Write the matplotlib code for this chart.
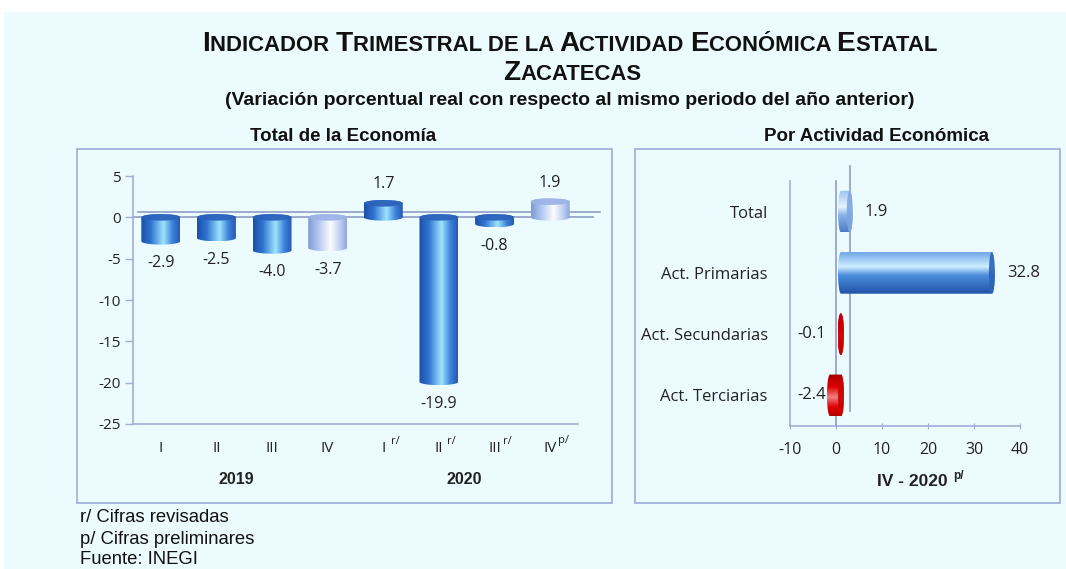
import numpy as np
import matplotlib
matplotlib.use("Agg")
import matplotlib.pyplot as plt
from matplotlib.colors import LinearSegmentedColormap
from matplotlib.patches import PathPatch, Ellipse, Rectangle
from matplotlib.path import Path
from matplotlib.transforms import offset_copy, IdentityTransform

# ---------------- data ----------------
quarters = ["I", "II", "III", "IV", "I", "II", "III", "IV"]
quarter_marks = ["", "", "", "", "r/", "r/", "r/", "p/"]
total_values = [-2.9, -2.5, -4.0, -3.7, 1.7, -19.9, -0.8, 1.9]
years = ["2019", "2020"]
sectors = ["Total", "Act. Primarias", "Act. Secundarias", "Act. Terciarias"]
sector_values = [1.9, 32.8, -0.1, -2.4]
left_yticks = [5, 0, -5, -10, -15, -20, -25]
right_xticks = [-10, 0, 10, 20, 30, 40]

# ---------------- fonts ----------------
ARIAL = "Liberation Sans"
CAL = "Open Sans"

W, H = 1066, 569
fig = plt.figure(figsize=(W / 100, H / 100), dpi=100, facecolor="white")
BG = "#ECFCFE"
fig.patches.append(Rectangle((4, 0), W - 4, H - 12, transform=IdentityTransform(),
                             facecolor=BG, edgecolor="none", zorder=-10))

def px(x, y):
    return x / W, 1 - y / H

# frames
FRAME = "#A9B6DE"
for (x0, y0, x1, y1) in [(77, 149, 612, 503), (635, 149, 1060, 503)]:
    fig.patches.append(Rectangle((x0, H - y1), x1 - x0, y1 - y0, transform=IdentityTransform(),
                                 facecolor="none", edgecolor=FRAME, lw=1.4, zorder=-5))

# ---------------- colormaps ----------------
blue_cm = LinearSegmentedColormap.from_list("b", [(0, "#1B4FA8"), (0.25, "#2F73D0"),
                                                 (0.58, "#9EE4FF"), (0.8, "#3F85DA"), (1, "#2458B4")])
light_cm = LinearSegmentedColormap.from_list("l", [(0, "#7E9AD6"), (0.3, "#B9CCF2"),
                                                  (0.58, "#FAFDFF"), (0.82, "#BFD0F2"), (1, "#8DA6DC")])
red_cm = LinearSegmentedColormap.from_list("r", [(0, "#A00000"), (0.3, "#E00000"),
                                                (0.55, "#F08080"), (0.78, "#E00000"), (1, "#B00000")])
hb_cm = LinearSegmentedColormap.from_list("hb", [(0, "#6FA6E8"), (0.35, "#CFEFFF"), (0.55, "#4D8EDC"),
                                                (1, "#1F52A8")])
hl_cm = LinearSegmentedColormap.from_list("hl", [(0, "#9CC0F0"), (0.4, "#E6F4FF"), (0.6, "#8AB2E8"),
                                                (1, "#4E7CC4")])

grad = np.linspace(0, 1, 256)

def vcyl(ax, x, v, w, ch, cmap, capcol):
    a, b = w / 2, ch / 2
    top, bot = max(0, v), min(0, v)
    th1 = np.linspace(np.pi, 0, 40)
    th2 = np.linspace(0, -np.pi, 40)
    verts = np.vstack([np.column_stack([x + a * np.cos(th1), top + b * np.sin(th1)]),
                       np.column_stack([x + a * np.cos(th2), bot + b * np.sin(th2)])])
    verts = np.vstack([verts, verts[:1]])
    codes = [Path.MOVETO] + [Path.LINETO] * (len(verts) - 2) + [Path.CLOSEPOLY]
    patch = PathPatch(Path(verts, codes), facecolor="none", edgecolor="none", zorder=3)
    ax.add_patch(patch)
    im = ax.imshow(grad[None, :], cmap=cmap, extent=(x - a, x + a, bot - b, top + b),
                   aspect="auto", zorder=3, interpolation="bilinear")
    im.set_clip_path(patch)
    ax.add_patch(Ellipse((x, top), w, ch, facecolor=capcol, edgecolor="none", zorder=4, alpha=0.95))

def hcyl(ax, y, v, hgt, cw, cmap, capcol, tr):
    a, b = cw / 2, hgt / 2
    right, left = max(0, v), min(0, v)
    th1 = np.linspace(np.pi / 2, -np.pi / 2, 40)
    th2 = np.linspace(-np.pi / 2, -3 * np.pi / 2, 40)
    verts = np.vstack([np.column_stack([right + a * np.cos(th1), y - b * np.sin(th1)]),
                       np.column_stack([left + a * np.cos(th2), y - b * np.sin(th2)])])
    verts = np.vstack([verts, verts[:1]])
    codes = [Path.MOVETO] + [Path.LINETO] * (len(verts) - 2) + [Path.CLOSEPOLY]
    patch = PathPatch(Path(verts, codes), facecolor="none", edgecolor="none", zorder=3, transform=tr)
    ax.add_patch(patch)
    im = ax.imshow(grad[:, None], cmap=cmap, extent=(left - a, right + a, y + b, y - b),
                   aspect="auto", zorder=3, interpolation="bilinear", origin="upper", transform=tr)
    im.set_clip_path(patch)
    ax.add_patch(Ellipse((right, y), cw, hgt, facecolor=capcol, edgecolor="none", zorder=4,
                         alpha=0.9, transform=tr))

AXC = "#A3AED6"
TXT = "#222222"

# ---------------- left chart ----------------
axL = fig.add_axes([133 / W, 1 - 424 / H, 445 / W, 248 / H])
axL.set_facecolor("none")
n = len(total_values)
xs = np.arange(n)
for i, v in enumerate(total_values):
    light = i in (3, 7)
    vcyl(axL, xs[i], v, 0.7, 0.8, light_cm if light else blue_cm,
         "#9DB3E6" if light else "#2C62BC")
    if v < 0:
        axL.annotate(f"{v:.1f}", (xs[i], v), xytext=(0, -22), textcoords="offset pixels",
                     ha="center", va="center", fontsize=11.5, family=CAL, color=TXT)
    else:
        axL.annotate(f"{v:.1f}", (xs[i], v), xytext=(0, 19), textcoords="offset pixels",
                     ha="center", va="center", fontsize=11.5, family=CAL, color=TXT)
axL.set_xlim(-0.5, n - 0.5)
axL.set_ylim(min(left_yticks), max(left_yticks))
axL.set_yticks(left_yticks)
axL.set_yticklabels([str(t) for t in left_yticks], fontsize=11, family=CAL, color=TXT)
axL.set_xticks(xs)
axL.set_xticklabels([""] * n)
for i, (q, m) in enumerate(zip(quarters, quarter_marks)):
    axL.annotate(q, (xs[i], 0), xycoords=("data", "axes fraction"), xytext=(0, -24),
                 textcoords="offset pixels", ha="center", va="center", fontsize=11, family=CAL, color=TXT)
    if m:
        axL.annotate(m, (xs[i], 0), xycoords=("data", "axes fraction"), xytext=(8, -17),
                     textcoords="offset pixels", ha="left", va="center", fontsize=8, family=CAL, color=TXT)
axL.tick_params(axis="x", length=0)
axL.tick_params(axis="y", length=6, width=1, color=AXC, pad=3)
for s in ["top", "right"]:
    axL.spines[s].set_visible(False)
for s in ["left", "bottom"]:
    axL.spines[s].set_color(AXC)
    axL.spines[s].set_linewidth(1.2)
axL.plot([-0.5, n - 0.5 + 0.27], [0, 0], color="#8E9CC6", lw=1.2, zorder=2, clip_on=False)
trB = offset_copy(axL.transData, fig=fig, x=5, y=5, units="dots")
axL.plot([-0.5, n - 0.5 + 0.3], [0, 0], color="#8E9CC6", lw=1.2, zorder=1, clip_on=False, transform=trB)
year_x = [1.35, 5.45]
for yx, yr in zip(year_x, years):
    axL.annotate(yr, (yx, 0), xycoords=("data", "axes fraction"), xytext=(0, -56),
                 textcoords="offset pixels", ha="center", va="center", fontsize=11.5,
                 family=ARIAL, weight="bold", color=TXT)

# ---------------- right chart ----------------
axR = fig.add_axes([790 / W, 1 - 426 / H, 230 / W, 245 / H])
axR.set_facecolor("none")
ys = np.arange(len(sectors))
trBar = offset_copy(axR.transData, fig=fig, x=5, y=0, units="dots")
rcfg = [(hl_cm, "#7FA6E0"), (hb_cm, "#2E62BA"), (red_cm, "#C80000"), (red_cm, "#C80000")]
for i, v in enumerate(sector_values):
    cm, cc = rcfg[i]
    hcyl(axR, ys[i], v, 0.68, 1.3, cm, cc, trBar)
    if v >= 0:
        axR.annotate(f"{v:.1f}", (v, ys[i]), xytext=(20, 0), textcoords="offset pixels",
                     ha="left", va="center", fontsize=12, family=CAL, color=TXT)
    else:
        axR.annotate(f"{v:.1f}", (0, ys[i]), xytext=(-10, 0), textcoords="offset pixels",
                     ha="right", va="center", fontsize=12, family=CAL, color=TXT)
axR.set_ylim(len(sectors) - 0.5, -0.5)
axR.set_xlim(min(right_xticks), max(right_xticks))
axR.set_xticks(right_xticks)
axR.set_xticklabels([str(t) for t in right_xticks], fontsize=11.5, family=CAL, color=TXT)
axR.set_yticks(ys)
axR.set_yticklabels(sectors, fontsize=12, family=CAL, color=TXT)
axR.tick_params(axis="y", length=0, pad=16)
axR.tick_params(axis="x", length=5, direction="inout", color=AXC, pad=9)
for s in ["top", "right"]:
    axR.spines[s].set_visible(False)
for s in ["left", "bottom"]:
    axR.spines[s].set_color(AXC)
    axR.spines[s].set_linewidth(1.2)
axR.plot([0, 0], [-0.5, len(sectors) - 0.5], color="#8E9CC6", lw=1.2, zorder=2, clip_on=False)
trRB = offset_copy(axR.transData, fig=fig, x=14, y=15, units="dots")
axR.plot([0, 0], [-0.5, len(sectors) - 0.5], color="#8E9CC6", lw=1.2, zorder=1, clip_on=False,
         transform=trRB)
axR.annotate("IV - 2020", (0.5, 0), xycoords="axes fraction", xytext=(7, -56),
             textcoords="offset pixels", ha="center", va="center", fontsize=12.5,
             family=ARIAL, weight="bold", color=TXT)
axR.annotate("p/", (0.5, 0), xycoords="axes fraction", xytext=(48, -50),
             textcoords="offset pixels", ha="left", va="center", fontsize=8.5,
             family=ARIAL, weight="bold", color=TXT)

# ---------------- titles ----------------
renderer = fig.canvas.get_renderer()

def smallcaps(text, xc, yc, big, small, family):
    runs = []
    for ch in text:
        sz = big if ch.isupper() else small
        if runs and runs[-1][1] == sz:
            runs[-1][0] += ch.upper()
        else:
            runs.append([ch.upper(), sz])
    objs = []
    total = 0
    for s, sz in runs:
        t = fig.text(0, 0, s, fontsize=sz, family=family, weight="bold", color="#111111",
                     transform=IdentityTransform(), va="baseline", ha="left")
        w = t.get_window_extent(renderer).width
        objs.append((t, w))
        total += w
    x = xc - total / 2
    for t, w in objs:
        t.set_position((x, H - yc))
        x += w

smallcaps("Indicador Trimestral de la Actividad Económica Estatal", 570, 51, 20.2, 15.9, ARIAL)
smallcaps("Zacatecas", 572, 80, 20.2, 15.9, ARIAL)
fig.text(*px(570, 100), "(Variación porcentual real con respecto al mismo periodo del año anterior)",
         ha="center", va="center", fontsize=14, family=ARIAL, weight="bold", color="#111111")
fig.text(*px(343, 136), "Total de la Economía", ha="center", va="center", fontsize=13.5,
         family=ARIAL, weight="bold", color="#111111")
fig.text(*px(876, 136), "Por Actividad Económica", ha="center", va="center", fontsize=13.5,
         family=ARIAL, weight="bold", color="#111111")

for yy, s in zip([518, 539, 559], ["r/ Cifras revisadas", "p/ Cifras preliminares", "Fuente: INEGI"]):
    fig.text(*px(80, yy), s, ha="left", va="center", fontsize=13.3, family=ARIAL, color="#111111")

fig.savefig("out.png", dpi=100, facecolor=fig.get_facecolor())
